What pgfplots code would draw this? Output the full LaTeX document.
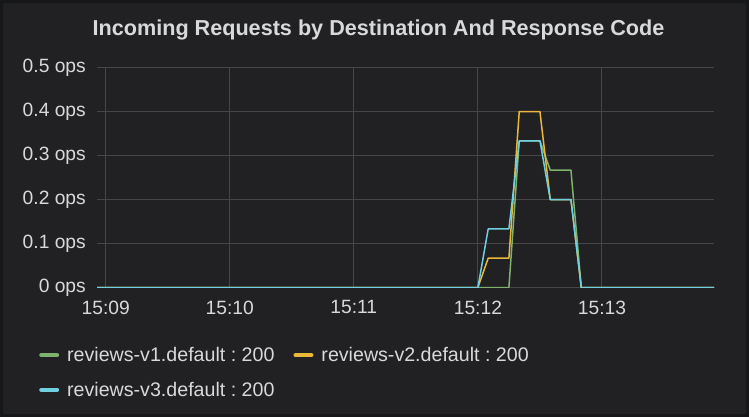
\documentclass[border=0pt]{standalone}
\usepackage{pgfplots}
\pgfplotsset{compat=1.18}
\usepackage{fontspec}
\setmainfont{Liberation Sans}
\frenchspacing
\definecolor{outerbg}{HTML}{161719}
\definecolor{panelbg}{HTML}{212124}
\definecolor{txt}{HTML}{D8D9DA}
\definecolor{gridc}{HTML}{464648}
\definecolor{sgreen}{HTML}{7EB26D}
\definecolor{syellow}{HTML}{EAB839}
\definecolor{scyan}{HTML}{6ED0E0}
\begin{document}
\begin{tikzpicture}
\fill[outerbg] (0bp,0bp) rectangle (749bp,417bp);
\fill[panelbg, rounded corners=2bp] (3bp,3bp) rectangle (746bp,414bp);
\node[text=txt, font=\bfseries\fontsize{21.7}{24}\selectfont, anchor=base] at (378.5bp,381.5bp) {Incoming Requests by Destination And Response Code};
\begin{axis}[
  at={(97bp,129.5bp)}, anchor=south west,
  scale only axis, width=617bp, height=220bp,
  xmin=8.93, xmax=13.903, ymin=0, ymax=0.5,
  axis line style={draw=none},
  major tick length=0pt,
  grid=major,
  grid style={color=gridc, line width=1bp},
  xtick={9,10,11,12,13},
  xticklabels={15:09,15:10,15:11,15:12,15:13},
  ytick={0,0.1,0.2,0.3,0.4,0.5},
  yticklabels={0 ops,0.1 ops,0.2 ops,0.3 ops,0.4 ops,0.5 ops},
  tick label style={font=\fontsize{19.3}{21}\selectfont, text=txt, inner sep=0pt},
  xticklabel style={yshift=-13bp},
  yticklabel style={xshift=-11bp},
  legend columns=2,
  legend cell align=left,
  legend style={at={(axis description cs:0,0)}, anchor=north west,
    xshift=-58bp, yshift=-59.5bp,
    draw=none, fill=none, inner sep=0pt,
    font=\fontsize{19.7}{21}\selectfont, text=txt,
    nodes={inner sep=0pt, anchor=west},
    column sep=8bp, row sep=19bp,
    /tikz/every even column/.append style={column sep=19bp}},
  legend image code/.code={\draw[line width=4.5bp, line cap=round] (2.25bp,0bp) -- (17.75bp,0bp);},
  every axis plot/.append style={line width=1.5bp, line join=round},
]
\addplot[sgreen] coordinates {(8.93,0) (12.25,0) (12.3333,0.3333) (12.5,0.3333) (12.5833,0.2667) (12.75,0.2667) (12.8333,0) (13.903,0)};
\addlegendentry{reviews-v1.default : 200}
\addplot[syellow] coordinates {(8.93,0) (12.0,0) (12.0833,0.0667) (12.25,0.0667) (12.3333,0.4) (12.5,0.4) (12.5833,0.2) (12.75,0.2) (12.8333,0) (13.903,0)};
\addlegendentry{reviews-v2.default : 200}
\addplot[scyan] coordinates {(8.93,0) (12.0,0) (12.0833,0.1333) (12.25,0.1333) (12.3333,0.3333) (12.5,0.3333) (12.5833,0.2) (12.75,0.2) (12.8333,0) (13.903,0)};
\addlegendentry{reviews-v3.default : 200}
\end{axis}
\end{tikzpicture}
\end{document}
